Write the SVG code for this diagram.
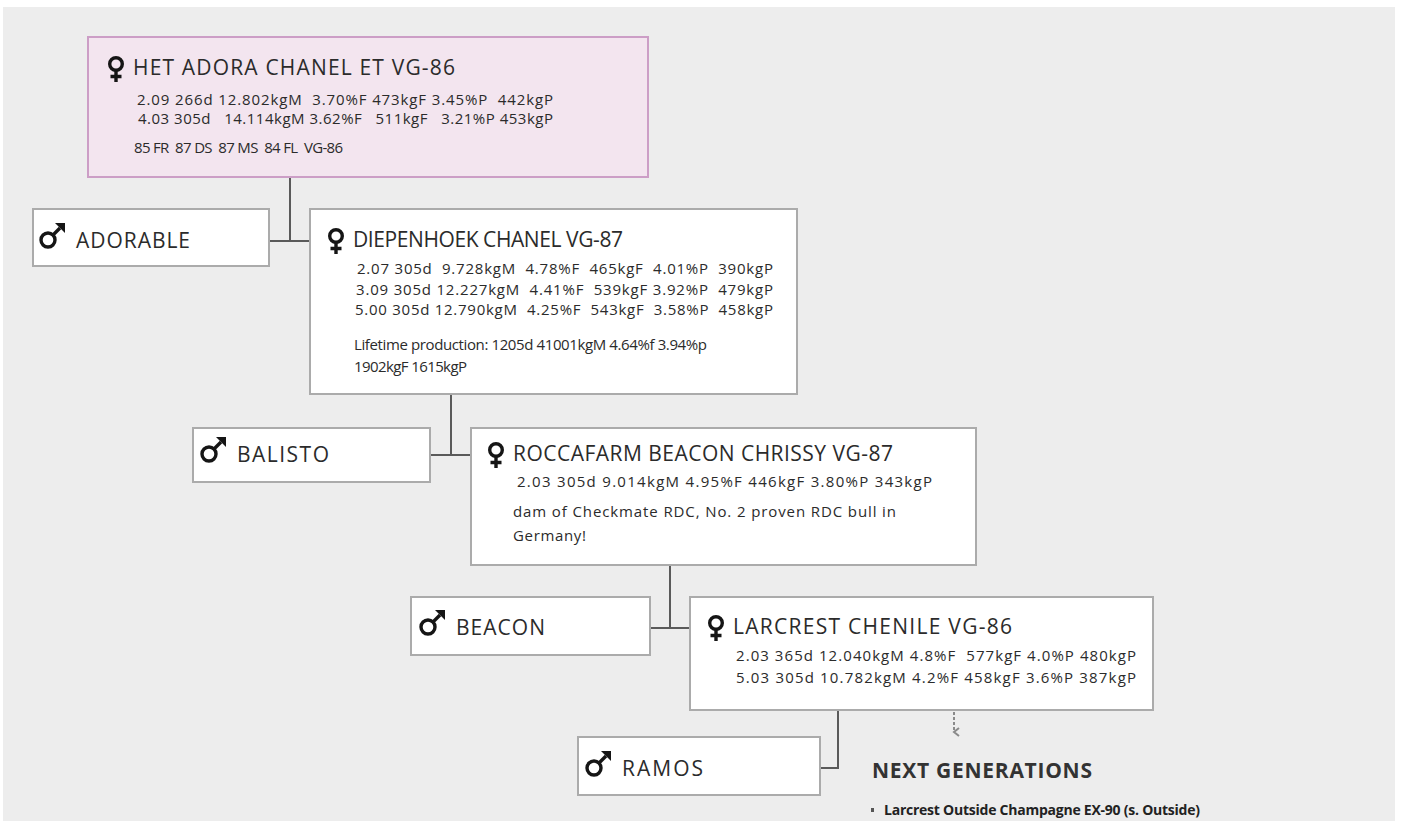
<svg xmlns="http://www.w3.org/2000/svg" width="1403" height="821" viewBox="0 0 1403 821">
<defs>
<style>
.bg{fill:#ededed}
.box{fill:#ffffff;stroke:#ababab;stroke-width:2}
.pink{fill:#f3e5ef;stroke:#cc9ec6;stroke-width:2}
.conn{fill:none;stroke:#5a5a5a;stroke-width:2}
.title{font-family:"Open Sans","Liberation Sans",sans-serif;font-size:21px;fill:#2b2b2b}
.data{font-family:"Open Sans","Liberation Sans",sans-serif;font-size:15px;fill:#2b2b2b;white-space:pre}
.hdr{font-family:"Open Sans","Liberation Sans",sans-serif;font-weight:bold;font-size:21px;fill:#333}
.item{font-family:"Open Sans","Liberation Sans",sans-serif;font-weight:bold;font-size:14px;fill:#222}
.ico{fill:none;stroke:#151515;stroke-width:3.4}
</style>
<symbol id="female" overflow="visible">
<circle class="ico" cx="0" cy="0" r="6.3"/>
<path class="ico" d="M0,6 V18 M-5.5,12.5 H5.5"/>
</symbol>
<symbol id="male" overflow="visible">
<circle class="ico" cx="-4" cy="4" r="7" stroke-width="3.6"/>
<path class="ico" d="M1,-1 L8,-8" stroke-width="3.6"/>
<path d="M3,-13 H13 V-3 Z" fill="#151515"/>
</symbol>
<marker id="chev" viewBox="0 0 10 10" refX="5" refY="8" markerWidth="10" markerHeight="10" markerUnits="userSpaceOnUse" orient="auto-start-reverse">
<path d="M1,3 L5,8 L9,3" fill="none" stroke="#8a8a8a" stroke-width="2"/>
</marker>
</defs>
<rect class="bg" x="3" y="7" width="1392" height="814"/>

<g id="connectors">
<path class="conn" d="M290,177 V241 M269,241 H310"/>
<path class="conn" d="M451,394 V455 M430,455 H471"/>
<path class="conn" d="M670,565 V628 M650,628 H690"/>
<path class="conn" d="M838,710 V768 H820"/>
<path d="M954,712 V732" fill="none" stroke="#8a8a8a" stroke-width="2" stroke-dasharray="3,2" marker-end="url(#chev)"/>
</g>

<g id="node-het-adora">
<rect class="pink" x="88" y="37" width="560" height="140"/>
<use href="#female" x="116" y="64"/>
<text class="title" x="133" y="75" textLength="322">HET ADORA CHANEL ET VG-86</text>
<text class="data" x="137" y="105" textLength="416">2.09 266d 12.802kgM  3.70%F 473kgF 3.45%P  442kgP</text>
<text class="data" x="138" y="124" textLength="415">4.03 305d   14.114kgM 3.62%F   511kgF   3.21%P 453kgP</text>
<text class="data" x="134" y="153" textLength="209">85 FR  87 DS  87 MS  84 FL  VG-86</text>
</g>

<g id="node-adorable">
<rect class="box" x="33" y="209" width="236" height="57"/>
<use href="#male" x="52" y="236"/>
<text class="title" x="76" y="248" textLength="114">ADORABLE</text>
</g>

<g id="node-diepenhoek">
<rect class="box" x="310" y="209" width="487" height="185"/>
<use href="#female" x="336" y="236"/>
<text class="title" x="353" y="247" textLength="270">DIEPENHOEK CHANEL VG-87</text>
<text class="data" x="357" y="274" textLength="416">2.07 305d  9.728kgM  4.78%F  465kgF  4.01%P  390kgP</text>
<text class="data" x="356" y="295" textLength="417">3.09 305d 12.227kgM  4.41%F  539kgF 3.92%P  479kgP</text>
<text class="data" x="355" y="315" textLength="418">5.00 305d 12.790kgM  4.25%F  543kgF  3.58%P  458kgP</text>
<text class="data" x="354" y="350" textLength="353">Lifetime production: 1205d 41001kgM 4.64%f 3.94%p</text>
<text class="data" x="354" y="372" textLength="113">1902kgF 1615kgP</text>
</g>

<g id="node-balisto">
<rect class="box" x="193" y="428" width="237" height="54"/>
<use href="#male" x="213" y="450"/>
<text class="title" x="237" y="462" textLength="92">BALISTO</text>
</g>

<g id="node-roccafarm">
<rect class="box" x="471" y="428" width="505" height="137"/>
<use href="#female" x="496" y="450"/>
<text class="title" x="513" y="461" textLength="380">ROCCAFARM BEACON CHRISSY VG-87</text>
<text class="data" x="517" y="487" textLength="415">2.03 305d 9.014kgM 4.95%F 446kgF 3.80%P 343kgP</text>
<text class="data" x="513" y="517" textLength="383" font-size="16">dam of Checkmate RDC, No. 2 proven RDC bull in</text>
<text class="data" x="513" y="541" textLength="73" font-size="16">Germany!</text>
</g>

<g id="node-beacon">
<rect class="box" x="411" y="597" width="239" height="58"/>
<use href="#male" x="432" y="623"/>
<text class="title" x="456" y="635" textLength="89">BEACON</text>
</g>

<g id="node-larcrest">
<rect class="box" x="690" y="597" width="463" height="113"/>
<use href="#female" x="716" y="623"/>
<text class="title" x="733" y="634" textLength="279">LARCREST CHENILE VG-86</text>
<text class="data" x="736" y="661" textLength="400">2.03 365d 12.040kgM 4.8%F  577kgF 4.0%P 480kgP</text>
<text class="data" x="736" y="683" textLength="400">5.03 305d 10.782kgM 4.2%F 458kgF 3.6%P 387kgP</text>
</g>

<g id="node-ramos">
<rect class="box" x="578" y="737" width="242" height="58"/>
<use href="#male" x="598" y="764"/>
<text class="title" x="622" y="776" textLength="81">RAMOS</text>
</g>

<g id="next-generations">
<text class="hdr" x="872" y="778" textLength="220">NEXT GENERATIONS</text>
<rect x="871" y="808" width="3" height="4" fill="#555"/>
<text class="item" x="884" y="815" textLength="316">Larcrest Outside Champagne EX-90 (s. Outside)</text>
</g>
</svg>
